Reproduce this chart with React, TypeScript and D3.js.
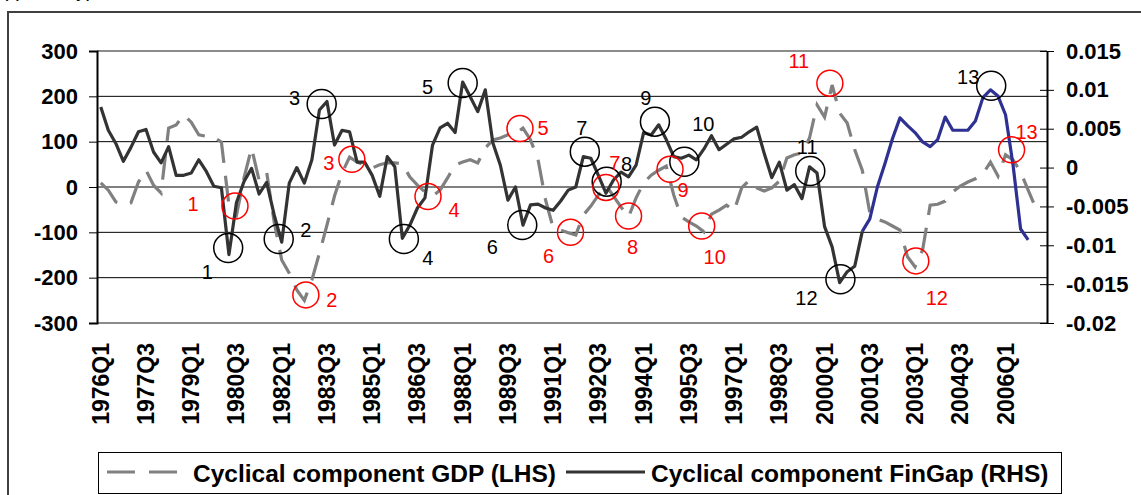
import { useRef, useEffect } from "react"
import * as d3 from "d3"

// quarterly categories 1976Q1 .. 2007Q2
const quarters = d3.range(126).map((i) => `${1976 + Math.floor(i / 4)}Q${(i % 4) + 1}`)

const tickLabels = [
  "1976Q1", "1977Q3", "1979Q1", "1980Q3", "1982Q1", "1983Q3", "1985Q1",
  "1986Q3", "1988Q1", "1989Q3", "1991Q1", "1992Q3", "1994Q1", "1995Q3",
  "1997Q1", "1998Q3", "2000Q1", "2001Q3", "2003Q1", "2004Q3", "2006Q1",
]

const leftTicks = [300, 200, 100, 0, -100, -200, -300]
const rightTicks = [0.015, 0.01, 0.005, 0, -0.005, -0.01, -0.015, -0.02]

// Cyclical component GDP (LHS)
const gdp = [
  9, -7, -33, -38, -35, 11, 37, 4, -13, 130,
  137, 159, 143, 115, 112, 110, 99, -40, -62, 20,
  86, 15, 33, -77, -161, -190, -227, -250, -205, -146,
  -84, -20, 31, 66, 55, 49, 42, 49, 53, 53,
  51, 22, 4, -11, -20, -7, 20, 49, 55, 60,
  53, 86, 104, 108, 115, 117, 130, 104, 60, -29,
  -90, -95, -101, -106, -62, -42, -18, 4, -20, -44,
  -66, -24, 9, 26, 37, 46, -18, -66, -77, -86,
  -99, -60, -51, -40, -53, -2, 15, -2, -9, -2,
  13, 64, 71, 75, 108, 181, 154, 225, 163, 141,
  82, 37, -57, -71, -77, -86, -95, -154, -176, -139,
  -40, -38, -31, -11, 2, 11, 18, 29, 55, 24,
  71, 60, 33, -7, -46,
]

// Cyclical component FinGap (RHS)
const finGap = [
  0.0078, 0.0048, 0.0031, 0.0008, 0.0026, 0.0046, 0.0049, 0.0020, 0.0006, 0.0027,
  -0.0010, -0.0010, -0.0007, 0.0010, -0.0005, -0.0024, -0.0026, -0.0112, -0.0045, -0.0018,
  -0.0001, -0.0034, -0.0019, -0.0061, -0.0096, -0.0020, 0.0000, -0.0020, 0.0010, 0.0074,
  0.0085, 0.0029, 0.0048, 0.0046, 0.0007, 0.0007, -0.0010, -0.0037, 0.0014, 0.0001,
  -0.0091, -0.0074, -0.0052, -0.0039, 0.0029, 0.0051, 0.0057, 0.0045, 0.0110, 0.0091,
  0.0072, 0.0100, 0.0032, 0.0003, -0.0042, -0.0025, -0.0074, -0.0048, -0.0047, -0.0052,
  -0.0055, -0.0043, -0.0029, -0.0025, 0.0014, 0.0012, -0.0010, -0.0033, -0.0016, -0.0006,
  -0.0012, 0.0003, 0.0045, 0.0042, 0.0055, 0.0036, 0.0014, 0.0012, 0.0016, 0.0010,
  0.0024, 0.0041, 0.0023, 0.0030, 0.0037, 0.0039, 0.0046, 0.0052, 0.0018, -0.0013,
  0.0007, -0.0029, -0.0022, -0.0040, 0.0001, -0.0007, -0.0076, -0.0102, -0.0148, -0.0134,
  -0.0127, -0.0082, -0.0066, -0.0025, 0.0005, 0.0037, 0.0064, 0.0054, 0.0045, 0.0033,
  0.0027, 0.0036, 0.0065, 0.0048, 0.0048, 0.0048, 0.0060, 0.0090, 0.0100, 0.0092,
  0.0068, 0.0003, -0.0079, -0.0093,
]
const blueFrom = 101 // FinGap drawn in blue from here on

// turning points: q = quarter index, v = axis value, dx/dy = label offset
const finGapTurns = [
  { n: "1", q: 16.9, v: -0.01035, dx: -21, dy: 24 },
  { n: "2", q: 23.6, v: -0.00919, dx: 27, dy: -9 },
  { n: "3", q: 29.3, v: 0.00819, dx: -27, dy: -6 },
  { n: "4", q: 40.2, v: -0.00919, dx: 24, dy: 19 },
  { n: "5", q: 48.0, v: 0.01089, dx: -35, dy: 4 },
  { n: "6", q: 55.9, v: -0.00739, dx: -30, dy: 22 },
  { n: "7", q: 64.2, v: 0.00205, dx: -3, dy: -24 },
  { n: "8", q: 67.1, v: -0.00181, dx: 20, dy: -18 },
  { n: "9", q: 73.5, v: 0.00591, dx: -9, dy: -24 },
  { n: "10", q: 77.4, v: 0.00076, dx: 19, dy: -38 },
  { n: "11", q: 94.1, v: -0.00044, dx: -3, dy: -24 },
  { n: "12", q: 98.1, v: -0.01438, dx: -34, dy: 19 },
  { n: "13", q: 118.1, v: 0.01054, dx: -23, dy: -9 },
]

const gdpTurns = [
  { n: "1", q: 17.8, v: -42, dx: -42, dy: -2 },
  { n: "2", q: 27.2, v: -238, dx: 26, dy: 5 },
  { n: "3", q: 33.3, v: 61, dx: -23, dy: 4 },
  { n: "4", q: 43.4, v: -21, dx: 26, dy: 13 },
  { n: "5", q: 55.6, v: 129, dx: 23, dy: -1 },
  { n: "6", q: 62.3, v: -100, dx: -22, dy: 24 },
  { n: "7", q: 67.0, v: -1, dx: 9, dy: -24 },
  { n: "8", q: 70.0, v: -64, dx: 4, dy: 31 },
  { n: "9", q: 75.5, v: 39, dx: 13, dy: 21 },
  { n: "10", q: 79.7, v: -86, dx: 13, dy: 31 },
  { n: "11", q: 96.7, v: 229, dx: -31, dy: -22 },
  { n: "12", q: 108.1, v: -163, dx: 21, dy: 37 },
  { n: "13", q: 120.8, v: 82, dx: 15, dy: -18 },
]

export default function App() {
  const svgRef = useRef<SVGSVGElement>(null)

  function drawChart() {
    const width = 1141
    const height = 495
    const left = 97
    const right = 1047
    const top = 51
    const bottom = 323
    const font = "'Liberation Sans', Arial, Helvetica, sans-serif"

    const svg = d3.select(svgRef.current).attr("width", width).attr("height", height)
    svg.selectAll("*").remove()

    const x = d3.scaleBand().domain(quarters).range([left, right]).padding(0)
    const xAt = (i: number) => left + (i + 0.5) * x.step()
    const yL = d3.scaleLinear().domain([-300, 300]).range([bottom, top])
    const yR = d3.scaleLinear().domain([-0.02, 0.015]).range([bottom, top])

    // outer frame (cropped at the page edge)
    svg.append("rect").attr("width", width).attr("height", height).attr("fill", "white")
    svg
      .append("path")
      .attr("d", `M8,${height + 5}V12H${width + 5}`)
      .attr("fill", "none")
      .attr("stroke", "#404040")
      .attr("stroke-width", 2)
    // caption above, only its descenders are in view
    svg
      .append("text")
      .text("(quarterly)")
      .attr("x", 93)
      .attr("y", -3)
      .attr("text-anchor", "end")
      .style("font-size", "20px")
      .style("font-family", font)

    // gridlines
    svg
      .append("g")
      .selectAll("line")
      .data(leftTicks.filter((d) => d !== 300 && d !== -300))
      .enter()
      .append("line")
      .attr("x1", left)
      .attr("x2", right)
      .attr("y1", (d) => yL(d))
      .attr("y2", (d) => yL(d))
      .attr("stroke", "black")
      .attr("stroke-width", 1)

    // plot area top / bottom border
    svg
      .append("g")
      .selectAll("line")
      .data([300, -300])
      .enter()
      .append("line")
      .attr("x1", left)
      .attr("x2", right)
      .attr("y1", (d) => yL(d))
      .attr("y2", (d) => yL(d))
      .attr("stroke", "#8c8c8c")
      .attr("stroke-width", 2)

    // GDP dashed
    const gdpLine = d3
      .line<number>()
      .x((d, i) => xAt(i))
      .y((d) => yL(d))
    svg
      .append("path")
      .attr("d", gdpLine(gdp))
      .attr("fill", "none")
      .attr("stroke", "#808080")
      .attr("stroke-width", 3.2)
      .attr("stroke-dasharray", "26,13")

    // FinGap solid
    const finLine = d3
      .line<[number, number]>()
      .x((d) => xAt(d[0]))
      .y((d) => yR(d[1]))
    const finPts = finGap.map((v, i) => [i, v] as [number, number])
    svg
      .append("path")
      .attr("d", finLine(finPts.slice(0, blueFrom + 1)))
      .attr("fill", "none")
      .attr("stroke", "#333333")
      .attr("stroke-width", 3.2)
      .attr("stroke-linejoin", "round")
    svg
      .append("path")
      .attr("d", finLine(finPts.slice(blueFrom)))
      .attr("fill", "none")
      .attr("stroke", "#2e3192")
      .attr("stroke-width", 3.2)
      .attr("stroke-linejoin", "round")

    // turning point circles
    const blackG = svg.append("g")
    blackG
      .selectAll("circle")
      .data(finGapTurns)
      .enter()
      .append("circle")
      .attr("cx", (d) => xAt(d.q))
      .attr("cy", (d) => yR(d.v))
      .attr("r", 14.5)
      .attr("fill", "none")
      .attr("stroke", "black")
      .attr("stroke-width", 1.5)
    blackG
      .selectAll("text")
      .data(finGapTurns)
      .enter()
      .append("text")
      .text((d) => d.n)
      .attr("x", (d) => xAt(d.q) + d.dx)
      .attr("y", (d) => yR(d.v) + d.dy)
      .attr("text-anchor", "middle")
      .attr("dominant-baseline", "central")
      .attr("fill", "black")
      .style("font-size", "20px")
      .style("font-family", font)

    const redG = svg.append("g")
    redG
      .selectAll("circle")
      .data(gdpTurns)
      .enter()
      .append("circle")
      .attr("cx", (d) => xAt(d.q))
      .attr("cy", (d) => yL(d.v))
      .attr("r", 13)
      .attr("fill", "none")
      .attr("stroke", "red")
      .attr("stroke-width", 1.5)
    redG
      .selectAll("text")
      .data(gdpTurns)
      .enter()
      .append("text")
      .text((d) => d.n)
      .attr("x", (d) => xAt(d.q) + d.dx)
      .attr("y", (d) => yL(d.v) + d.dy)
      .attr("text-anchor", "middle")
      .attr("dominant-baseline", "central")
      .attr("fill", "red")
      .style("font-size", "20px")
      .style("font-family", font)

    // left axis
    const leftAxis = svg
      .append("g")
      .attr("transform", `translate(${left},0)`)
      .call(d3.axisLeft(yL).tickValues(leftTicks).tickSize(8).tickPadding(11).tickFormat((d) => String(d)))
    leftAxis.select(".domain").attr("stroke", "black").attr("stroke-width", 2)
    leftAxis.selectAll(".tick line").attr("stroke", "black")
    leftAxis
      .selectAll(".tick text")
      .attr("fill", "black")
      .style("font-size", "22px")
      .style("font-weight", "bold")
      .style("font-family", font)

    // right axis
    const rightAxis = svg
      .append("g")
      .attr("transform", `translate(${right},0)`)
      .call(d3.axisRight(yR).tickValues(rightTicks).tickSizeInner(7).tickSizeOuter(0).tickPadding(12).tickFormat((d) => String(d)))
    rightAxis.select(".domain").attr("stroke", "black").attr("stroke-width", 2)
    rightAxis.selectAll(".tick line").attr("stroke", "black").attr("x1", -7)
    rightAxis
      .selectAll(".tick text")
      .attr("fill", "black")
      .style("font-size", "22px")
      .style("font-weight", "bold")
      .style("font-family", font)

    // bottom category labels
    svg
      .append("g")
      .selectAll("text")
      .data(tickLabels)
      .enter()
      .append("text")
      .text((d) => d)
      .attr("transform", (d) => `translate(${(x(d) ?? 0) + x.bandwidth() / 2},343) rotate(-90)`)
      .attr("text-anchor", "end")
      .attr("dominant-baseline", "central")
      .style("font-size", "23px")
      .style("font-weight", "bold")
      .style("font-family", font)

    // legend
    const legend = svg.append("g")
    legend
      .append("rect")
      .attr("x", 98.5)
      .attr("y", 452.5)
      .attr("width", 963)
      .attr("height", 41)
      .attr("fill", "white")
      .attr("stroke", "black")
      .attr("stroke-width", 1)
    legend
      .append("line")
      .attr("x1", 107)
      .attr("x2", 177)
      .attr("y1", 472)
      .attr("y2", 472)
      .attr("stroke", "#808080")
      .attr("stroke-width", 3.2)
      .attr("stroke-dasharray", "28,14")
    legend
      .append("text")
      .text("Cyclical component GDP (LHS)")
      .attr("x", 193)
      .attr("y", 473)
      .attr("dominant-baseline", "central")
      .style("font-size", "24.5px")
      .style("font-weight", "bold")
      .style("font-family", font)
    legend
      .append("line")
      .attr("x1", 566)
      .attr("x2", 645)
      .attr("y1", 472)
      .attr("y2", 472)
      .attr("stroke", "#333333")
      .attr("stroke-width", 3.2)
    legend
      .append("text")
      .text("Cyclical component FinGap (RHS)")
      .attr("x", 651)
      .attr("y", 473)
      .attr("dominant-baseline", "central")
      .style("font-size", "24.5px")
      .style("font-weight", "bold")
      .style("font-family", font)
  }

  useEffect(() => {
    drawChart()
  }, [svgRef])

  return (
    <div style={{ position: "absolute", left: 0, top: 0 }}>
      <svg ref={svgRef} style={{ display: "block" }}></svg>
    </div>
  )
}
